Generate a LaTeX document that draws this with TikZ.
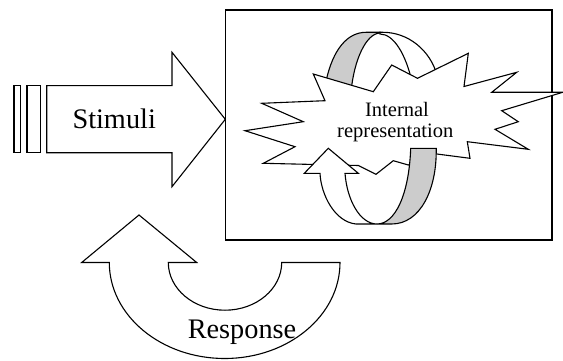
\documentclass[tikz,border=0pt]{standalone}
\usepackage{fontspec}
\setmainfont{Liberation Serif}
\definecolor{ribbon}{gray}{0.8}
\begin{document}
\begin{tikzpicture}[x=1pt,y=-1pt,line join=miter,
  outline/.style={draw=black,line width=1.1pt},
  band/.style={outline,fill=white},
  shade/.style={outline,fill=ribbon},
  biglbl/.style={inner sep=0pt,anchor=base,font=\fontsize{28.3}{34}\selectfont},
  smalllbl/.style={inner sep=0pt,anchor=base,font=\fontsize{20.5}{24}\selectfont}]
\useasboundingbox (0,0) rectangle (563,361);

% input bars and the Stimuli block arrow
\draw[band] (14,85.7) rectangle (20.7,152.7);
\draw[band] (27,85.7) rectangle (40.7,152.7);
\draw[band] (46.7,85.7) -- (172,85.7) -- (172,52.3) -- (225.3,119.3)
  -- (172,186.7) -- (172,152.7) -- (46.7,152.7) -- cycle;

% frame
\draw[outline] (225.5,10) rectangle (552,240);

% upper half of the loop (behind the burst)
\draw[shade] (326.3,80) .. controls (333,50) and (347,32.3) .. (366,32.3)
  -- (380,32.3) -- (380,33) .. controls (366,33.5) and (354,60) .. (351,92) -- cycle;
\draw[band] (380,32.3) -- (383,32.3) .. controls (408,32.3) and (430,50) .. (437,75)
  -- (412,82) .. controls (406,55) and (394,34) .. (380,34) -- cycle;

% burst
\draw[band] (313.3,74) -- (373.3,91.7) -- (391.7,65) -- (417.5,78.3)
  -- (468.3,53.3) -- (464,86.5) -- (516.7,72.3) -- (491.7,92.3)
  -- (562.7,92.3) -- (501.7,110.7) -- (518.3,121.7) -- (495,129.3)
  -- (528.3,149.3) -- (467.3,141.7) -- (470,158.3) -- (433,153.5)
  -- (408.3,165) -- (393.3,160.7) -- (376,174.3) -- (358.3,165.5)
  -- (263.3,163.3) -- (295,146.7) -- (245,130.7) -- (303.3,121.7)
  -- (261.7,103.3) -- (325,100.7) -- cycle;

% lower half of the loop with its arrow head (in front of the burst)
\draw[band] (304.3,173.3) -- (328.3,148.3) -- (358.3,173.3) -- (345,173.3)
  .. controls (347,200) and (360,224) .. (377,224) -- (356,224)
  .. controls (335,222) and (321,195) .. (320,173.3) -- cycle;
\draw[shade] (410.7,148.3) -- (436.2,148.3)
  .. controls (437,190) and (420,224) .. (391.7,224) -- (377,224)
  .. controls (395,224) and (409,195) .. (410.7,148.3) -- cycle;

% Response block arrow
\draw[band] (81.7,262.5) -- (139,215) -- (196.7,262.5) -- (168.3,262.5)
  .. controls (168.3,288.8) and (193.7,310.2) .. (225,310.2)
  .. controls (256.3,310.2) and (281.7,288.8) .. (281.7,262.5)
  -- (340,262.5)
  .. controls (340,315.5) and (288.4,358.5) .. (224.7,358.5)
  .. controls (161,358.5) and (109.3,315.5) .. (109.3,262.5) -- cycle;

% labels
\node[biglbl] (stimuli) at (114.2,128.3) {Stimuli};
\node[biglbl] (response) at (242,338.3) {Response};
\node[smalllbl] (internal) at (397,116.5) {Internal};
\node[smalllbl] (repr) at (395.3,137.5) {representation};
\end{tikzpicture}
\end{document}
